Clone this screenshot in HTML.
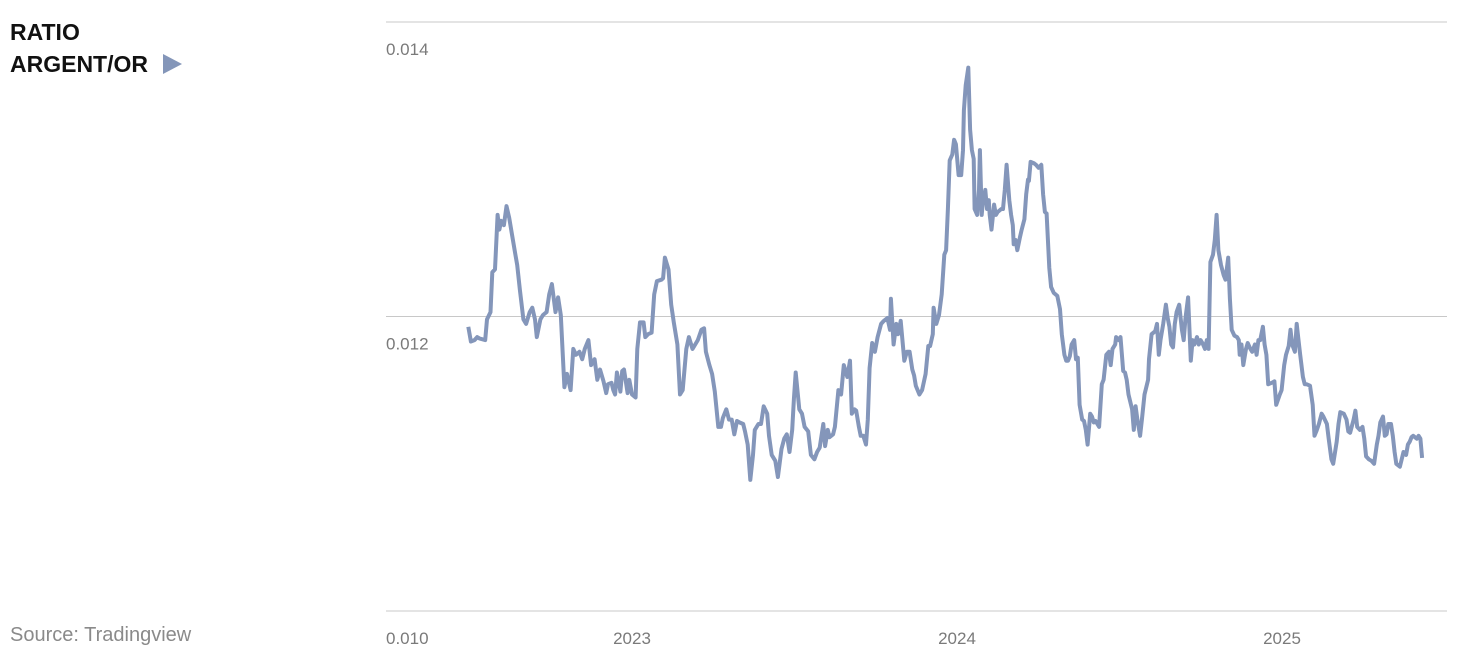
<!DOCTYPE html>
<html><head><meta charset="utf-8"><style>
body{margin:0;background:#fff;width:1468px;height:668px;overflow:hidden;font-family:"Liberation Sans",sans-serif}
svg{position:absolute;left:0;top:0}
</style></head><body>
<svg width="1468" height="668" id="chart">
<text x="10" y="40" font-size="23" font-weight="bold" fill="#111">RATIO</text>
<text x="10" y="72" font-size="23" font-weight="bold" fill="#111">ARGENT/OR</text>
<polygon points="163,54 163,74 182,64" fill="#8496b9"/>
<text x="10" y="641" font-size="20" fill="#8a8a8a">Source: Tradingview</text>
<g id="grid"></g><g id="axes"></g><g id="series"></g>
</svg>
<script>
const yTicks=[0.014,0.012,0.010];
const yTickLabels=["0.014","0.012","0.010"];
const xTicks=[2023,2024,2025];
const xTickLabels=["2023","2024","2025"];
const startDate="2022-07-01";
const dayOffsets=[0,3,7,10,13,19,21,25,27,30,33,35,37,40,43,46,49,53,55,58,62,65,69,72,75,77,81,84,88,91,94,98,101,104,108,111,115,118,121,125,128,131,135,138,142,145,148,152,155,157,161,163,165,167,171,173,175,179,181,184,188,190,193,197,199,202,206,209,212,217,219,221,225,228,231,235,238,241,245,248,252,255,258,262,265,267,271,274,277,281,284,286,290,293,296,299,302,305,309,311,314,317,320,322,326,329,332,336,338,341,345,348,352,355,358,361,364,366,368,372,375,378,382,385,389,392,395,399,401,404,406,410,412,416,419,422,426,429,431,434,436,439,441,444,447,449,451,454,457,460,464,467,471,474,475,478,481,483,486,490,493,496,499,501,503,507,510,514,517,519,522,523,526,529,532,535,537,539,541,544,546,548,551,554,556,557,559,562,564,566,568,569,572,574,575,577,578,581,583,585,586,588,591,593,595,599,601,603,605,608,610,612,613,615,617,620,622,625,627,629,630,632,636,638,641,644,646,648,650,653,655,658,662,665,667,670,672,674,676,678,681,683,685,687,690,692,694,696,699,701,703,705,709,712,714,717,720,722,724,727,728,731,733,736,738,740,742,746,748,750,752,755,757,760,764,765,768,772,774,776,778,781,784,786,788,790,792,794,796,799,802,804,806,809,812,814,816,819,821,823,825,828,830,832,834,837,839,841,843,846,849,851,854,856,858,861,864,866,867,869,871,874,876,879,881,884,886,888,890,893,895,897,899,903,906,908,912,914,917,919,922,924,926,929,931,933,935,938,940,942,946,949,951,953,956,959,961,965,967,970,972,976,978,980,984,987,989,991,995,997,999,1002,1005,1007,1009,1012,1015,1018,1021,1023,1025,1028,1030,1032,1034,1037,1039,1041,1043,1047,1049,1051,1054,1056,1058,1060,1062,1066,1068,1070,1072];
const ratioValues=[1193,1183,1184,1186,1185,1184,1198,1203,1230,1232,1269,1259,1265,1262,1275,1267,1256,1242,1235,1218,1198,1195,1203,1206,1198,1186,1198,1201,1203,1215,1222,1203,1213,1201,1152,1161,1150,1178,1174,1176,1171,1178,1184,1167,1171,1157,1164,1156,1148,1154,1155,1150,1147,1162,1149,1163,1164,1148,1157,1147,1145,1178,1196,1196,1186,1188,1189,1215,1224,1225,1226,1240,1232,1208,1196,1181,1147,1150,1178,1186,1178,1181,1184,1191,1192,1176,1167,1161,1149,1125,1125,1131,1137,1130,1130,1120,1129,1128,1127,1122,1113,1089,1106,1123,1127,1127,1139,1134,1119,1106,1102,1091,1110,1117,1120,1108,1123,1144,1162,1137,1134,1125,1122,1106,1103,1108,1111,1127,1112,1123,1118,1120,1125,1150,1147,1167,1159,1170,1134,1137,1136,1125,1119,1119,1113,1130,1165,1182,1176,1186,1195,1197,1199,1191,1212,1181,1195,1188,1197,1170,1176,1176,1164,1160,1153,1147,1150,1161,1180,1180,1188,1206,1195,1201,1215,1242,1245,1273,1306,1310,1320,1317,1296,1296,1313,1340,1357,1369,1327,1313,1307,1273,1269,1286,1313,1269,1276,1286,1273,1279,1269,1259,1276,1269,1271,1273,1273,1286,1303,1279,1269,1262,1249,1252,1245,1254,1259,1266,1283,1293,1292,1305,1304,1303,1301,1303,1283,1271,1270,1233,1220,1216,1214,1205,1188,1174,1170,1170,1173,1181,1184,1171,1172,1140,1130,1129,1123,1113,1134,1132,1128,1129,1125,1154,1157,1174,1176,1167,1178,1181,1186,1184,1186,1163,1162,1157,1147,1137,1123,1139,1130,1119,1130,1147,1157,1171,1188,1190,1195,1174,1184,1195,1208,1199,1193,1181,1179,1195,1203,1208,1191,1184,1199,1213,1170,1184,1181,1186,1181,1184,1182,1178,1184,1178,1237,1242,1252,1269,1245,1235,1228,1225,1240,1212,1191,1187,1186,1184,1174,1181,1167,1178,1182,1178,1176,1181,1174,1184,1184,1193,1181,1174,1154,1155,1156,1140,1147,1150,1167,1174,1180,1191,1181,1176,1195,1184,1174,1159,1154,1154,1153,1140,1119,1122,1127,1134,1132,1127,1117,1103,1100,1115,1127,1135,1134,1130,1122,1121,1130,1136,1125,1123,1125,1117,1105,1103,1102,1100,1113,1119,1128,1132,1119,1120,1127,1127,1119,1108,1100,1098,1103,1108,1106,1113,1115,1118,1119,1117,1119,1117,1104];
const NS="http://www.w3.org/2000/svg";
const t0=Date.UTC(2022,6,1), y2023=Date.UTC(2023,0,1);
function yScale(v){return 22+(0.014-v)/0.004*589;}
function xScale(yr){return 632+(yr-2023)*325;}
function dayToYear(d){return 2023+((t0-y2023)/86400000+d)/365.25;}
const grid=document.getElementById('grid'),axes=document.getElementById('axes'),series=document.getElementById('series');
yTicks.forEach((t,i)=>{
  const y=yScale(t);
  const l=document.createElementNS(NS,'line');
  l.setAttribute('x1',386);l.setAttribute('x2',1447);l.setAttribute('y1',y);l.setAttribute('y2',y);
  l.setAttribute('stroke','#c8c8c8');l.setAttribute('stroke-width','1');
  
  
  grid.appendChild(l);
  const tx=document.createElementNS(NS,'text');
  tx.setAttribute('x',386);tx.setAttribute('y',y+33);tx.setAttribute('font-size','17');tx.setAttribute('fill','#7a7a7a');
  tx.textContent=yTickLabels[i];
  
  
  axes.appendChild(tx);
});
xTicks.forEach((t,i)=>{
  const tx=document.createElementNS(NS,'text');
  tx.setAttribute('x',xScale(t));tx.setAttribute('y',644);tx.setAttribute('font-size','17');tx.setAttribute('fill','#7a7a7a');tx.setAttribute('text-anchor','middle');
  tx.textContent=xTickLabels[i];
  
  
  axes.appendChild(tx);
});
const n=Math.min(ratioValues.length,dayOffsets.length);
const pts=[];
for(let i=0;i<n;i++){pts.push(xScale(dayToYear(dayOffsets[i])).toFixed(1)+','+yScale(ratioValues[i]/100000).toFixed(1));}
const pl=document.createElementNS(NS,'polyline');
pl.setAttribute('points',pts.join(' '));
pl.setAttribute('fill','none');pl.setAttribute('stroke','#8496ba');pl.setAttribute('stroke-width','4');pl.setAttribute('stroke-linejoin','round');


series.appendChild(pl);
</script>
</body></html>
